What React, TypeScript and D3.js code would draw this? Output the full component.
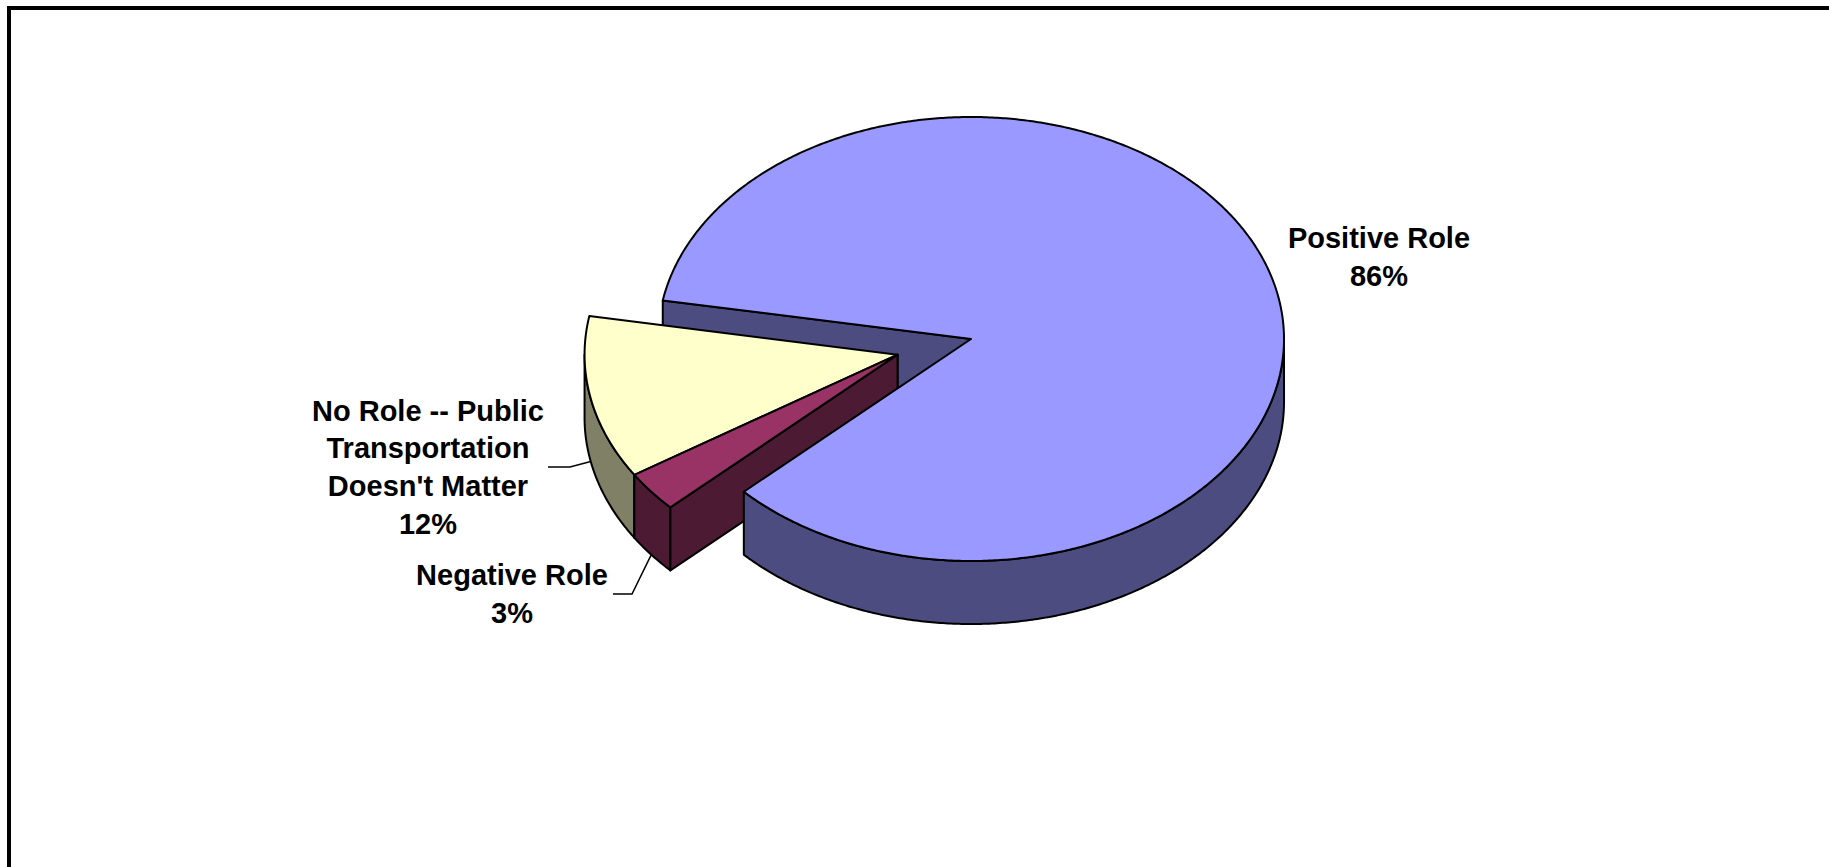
import React from "react";
import * as d3 from "d3";

// ---- data ----
const categories = ["Positive Role", "Negative Role", "No Role -- Public Transportation Doesn't Matter"];
const values = [86, 3, 12];
const percentLabels = ["86%", "3%", "12%"];
const labelLines = [["Positive Role"], ["Negative Role"], ["No Role -- Public", "Transportation", "Doesn't Matter"]];
const exploded = [false, true, true];
const topColors = ["#9999FF", "#993366", "#FFFFCC"];
const sideColors = ["#4C4C80", "#4D1A33", "#808066"];

// ---- layout ----
const W = 1829;
const H = 867;
const CX = 971;
const CY = 339;
const RX = 313;
const RY = 222;
const DEPTH = 63;
const EXPLODE = 0.245;
const START_DEG = 280;
const FONT = 29;
const LINE_H = 37.7;
const labelLayout = [
  { x: 1379, y: 248.3, elbow: null as null | [number, number], end: null as null | [number, number] },
  { x: 512, y: 585, elbow: [632, 594] as [number, number], end: [613, 594] as [number, number] },
  { x: 428, y: 420.7, elbow: [570, 467] as [number, number], end: [548, 467] as [number, number] },
];

const toRad = (d: number) => (d * Math.PI) / 180;

export default function App() {
  const pie = d3
    .pie<number>()
    .sort(null)
    .startAngle(toRad(START_DEG))
    .endAngle(toRad(START_DEG + 360));
  const arcs = pie(values);

  // screen angle theta (clockwise from +x) = d3 angle - 90deg
  const th = (a: number) => a - Math.PI / 2;

  // explosion direction: bisector of all exploded slices together
  const exArcs = arcs.filter((_, i) => exploded[i]);
  const exMid = exArcs.length
    ? th((d3.min(exArcs, (a) => a.startAngle)! + d3.max(exArcs, (a) => a.endAngle)!) / 2)
    : 0;
  const exOffset = { dx: EXPLODE * RX * Math.cos(exMid), dy: EXPLODE * RY * Math.sin(exMid) };

  const sx = d3.scaleLinear().domain([-1, 1]).range([CX - RX, CX + RX]);
  const sy = d3.scaleLinear().domain([-1, 1]).range([CY - RY, CY + RY]);

  const pt = (t: number, off: { dx: number; dy: number }, z: number): [number, number] => [
    sx(Math.cos(t)) + off.dx,
    sy(Math.sin(t)) + off.dy + z,
  ];
  const arcPts = (a: number, b: number, off: { dx: number; dy: number }, z: number) => {
    const n = Math.max(2, Math.ceil(Math.abs(b - a) / toRad(0.5)));
    return d3.range(n + 1).map((k) => pt(a + ((b - a) * k) / n, off, z));
  };
  const line = d3.line<[number, number]>();

  type Piece = { key: string; d: string; fill: string };
  const backPieces: Piece[] = [];
  const midPieces: Piece[] = [];
  const frontPieces: Piece[] = [];

  const order = [0, 2, 1];
  arcs.forEach((arc, i) => {
    const off = exploded[i] ? exOffset : { dx: 0, dy: 0 };
    const a = th(arc.startAngle);
    const b = th(arc.endAngle);
    const apex: [number, number] = [CX + off.dx, CY + off.dy];
    const apexB: [number, number] = [apex[0], apex[1] + DEPTH];

    const walls: Piece[] = [];
    // start cut face
    if (Math.sin(a - Math.PI / 2) > 0) {
      const p = pt(a, off, 0);
      const pb = pt(a, off, DEPTH);
      walls.push({ key: `s${i}`, d: line([apex, p, pb, apexB])! + "Z", fill: sideColors[i] });
    }
    // end cut face
    if (Math.sin(b + Math.PI / 2) > 0) {
      const p = pt(b, off, 0);
      const pb = pt(b, off, DEPTH);
      walls.push({ key: `e${i}`, d: line([apex, p, pb, apexB])! + "Z", fill: sideColors[i] });
    }
    // outer rim (front half only)
    const rims: Piece[] = [];
    for (let k = -1; k <= 2; k++) {
      const lo = Math.max(a, k * 2 * Math.PI);
      const hi = Math.min(b, k * 2 * Math.PI + Math.PI);
      if (hi > lo) {
        const top = arcPts(lo, hi, off, 0);
        const bot = arcPts(hi, lo, off, DEPTH);
        rims.push({ key: `r${i}${k}`, d: line([...top, ...bot])! + "Z", fill: sideColors[i] });
      }
    }
    const topFace: Piece = {
      key: `t${i}`,
      d: line([apex, ...arcPts(a, b, off, 0)])! + "Z",
      fill: topColors[i],
    };
    if (!exploded[i]) {
      // back-facing start wall of the main slice sits behind the exploded pieces
      walls.forEach((w) => backPieces.push(w));
      rims.forEach((r) => frontPieces.push(r));
      frontPieces.push(topFace);
    } else {
      midPieces.push(...rims, ...walls, topFace);
    }
  });
  // draw exploded slices in order (No Role before Negative)
  const midSorted = order
    .filter((i) => exploded[i])
    .flatMap((i) => midPieces.filter((p) => p.key.slice(1).startsWith(String(i))));

  const leaders = arcs.map((arc, i) => {
    const L = labelLayout[i];
    if (!L.elbow || !L.end) return null;
    const off = exploded[i] ? exOffset : { dx: 0, dy: 0 };
    const mid = th((arc.startAngle + arc.endAngle) / 2);
    const p = pt(mid, off, DEPTH);
    return { key: `l${i}`, d: line([p, L.elbow, L.end])! };
  });

  const stroke = "#000";
  return (
    <div style={{ position: "absolute", left: 0, top: 0 }}>
      <svg width={W} height={H} style={{ display: "block", background: "#fff" }}>
        <rect x={0} y={0} width={W} height={H} fill="#fff" />
        <line x1={7} y1={8} x2={W} y2={8} stroke="#000" strokeWidth={4} />
        <line x1={9} y1={6} x2={9} y2={H} stroke="#000" strokeWidth={4} />
        {[...backPieces, ...midSorted, ...frontPieces].map((p) => (
          <path key={p.key} d={p.d} fill={p.fill} stroke={stroke} strokeWidth={2} strokeLinejoin="round" />
        ))}
        {leaders.map((l) =>
          l ? <path key={l.key} d={l.d} fill="none" stroke="#000" strokeWidth={1.5} /> : null
        )}
        {categories.map((c, i) => {
          const L = labelLayout[i];
          const lines = [...labelLines[i], percentLabels[i]];
          return (
            <text
              key={c}
              textAnchor="middle"
              fontFamily="'Liberation Sans', Arial, sans-serif"
              fontWeight="bold"
              fontSize={FONT}
              fill="#000"
            >
              {lines.map((s, k) => (
                <tspan key={k} x={L.x} y={L.y + k * LINE_H}>
                  {s}
                </tspan>
              ))}
            </text>
          );
        })}
      </svg>
    </div>
  );
}
